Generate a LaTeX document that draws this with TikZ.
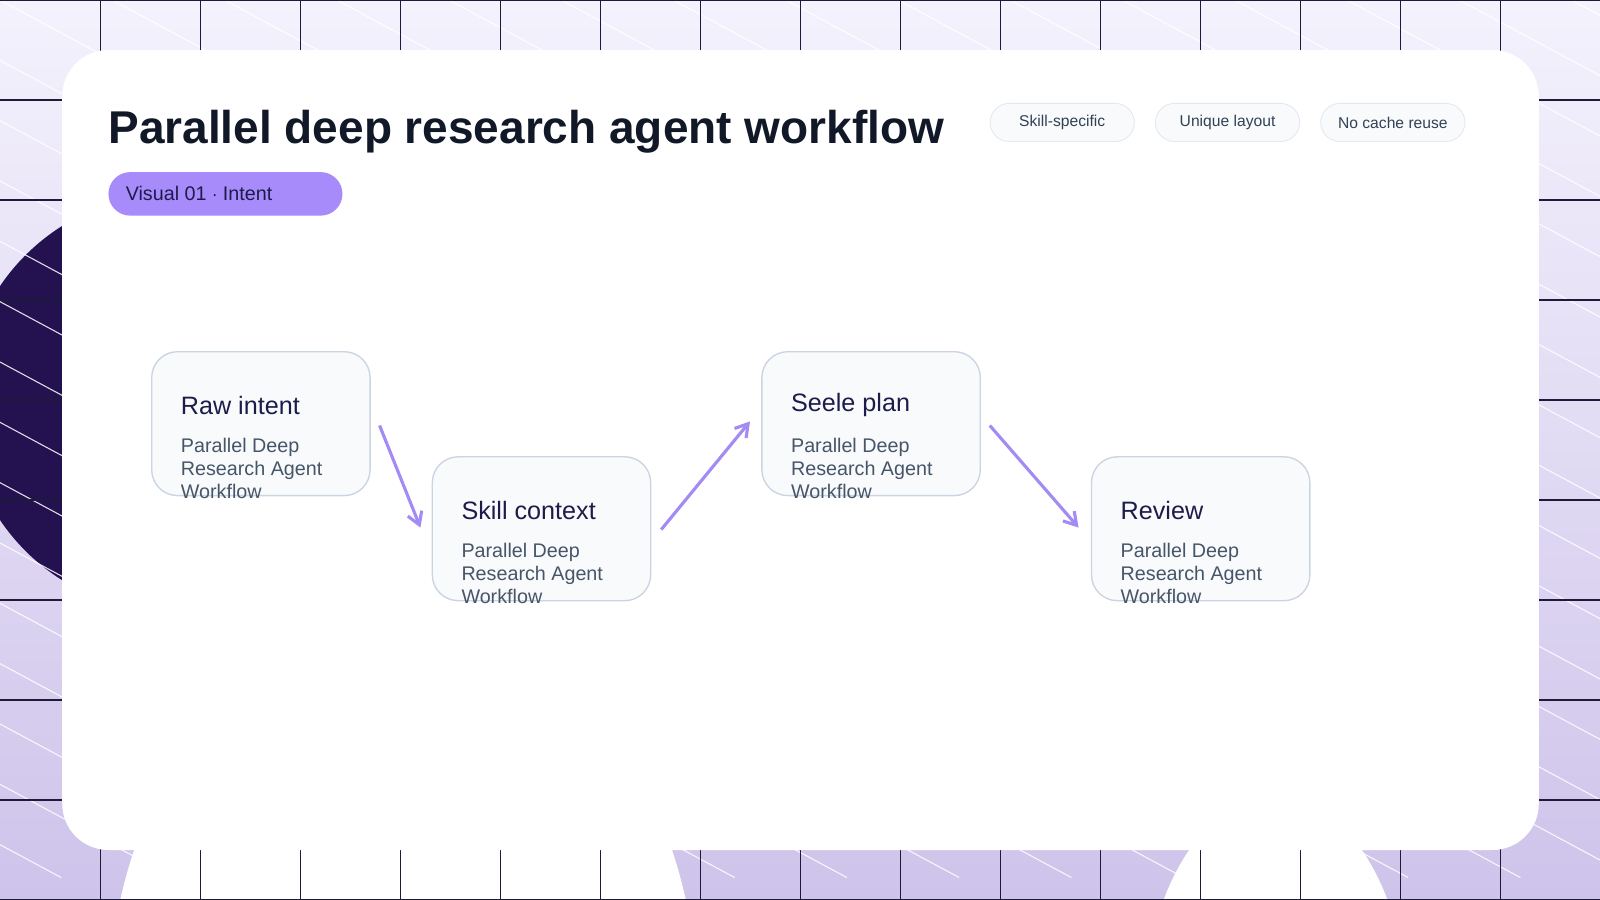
\documentclass[tikz,border=0pt]{standalone}
\usepackage{fontspec}
\setmainfont{Liberation Sans}
\begin{document}
\begin{tikzpicture}[x=0.75pt,y=-0.75pt,
  box/.style={draw=boxline,fill=boxfill,line width=1pt,rounded corners=19pt,minimum width=160.5pt,minimum height=105.75pt,inner sep=0pt},
  chip/.style={draw=chipline,fill=chipfill,line width=0.6pt,rounded corners=14pt,minimum width=106pt,minimum height=28pt,font=\fontsize{11.5}{14}\selectfont,text=chiptext},
  flow/.style={draw=arrowc,line width=2.3pt,-{Straight Barb[length=9pt,width=11pt]}}]
\usetikzlibrary{arrows.meta}
\definecolor{bgtop}{HTML}{F4F2FD}
\definecolor{bgbot}{HTML}{CEC3EA}
\definecolor{grid}{HTML}{1E1B3A}
\definecolor{darkc}{HTML}{24114F}
\definecolor{boxline}{HTML}{CBD5E1}
\definecolor{boxfill}{HTML}{F8FAFC}
\definecolor{chipline}{HTML}{E2E8F0}
\definecolor{chipfill}{HTML}{F8FAFC}
\definecolor{chiptext}{HTML}{334155}
\definecolor{titlec}{HTML}{111827}
\definecolor{pill}{HTML}{A78BFA}
\definecolor{pilltext}{HTML}{1E1B4B}
\definecolor{ntitle}{HTML}{1E1B4B}
\definecolor{nbody}{HTML}{475569}
\definecolor{arrowc}{HTML}{A38AF5}
\useasboundingbox (0,0) rectangle (1568,882);
\shade[top color=bgtop,bottom color=bgbot] (0,0) rectangle (1568,882);
\begin{scope}
\clip (0,0) rectangle (1568,882);
\fill[darkc] (170,395) circle (205);
\foreach \i in {-20,...,16} {\draw[white,line width=0.8pt,opacity=0.85] (\i*110,0) -- ++(1600,860);}
\fill[white] (395,1000) ellipse (290 and 400);
\fill[white] (1250,1000) ellipse (130 and 220);
\foreach \x in {98,196,...,1568} \draw[grid,line width=0.7pt] (\x,0) -- (\x,882);
\foreach \y in {0,98,...,882} \draw[grid,line width=0.9pt] (0,\y) -- (1568,\y);
\end{scope}
\fill[white] (61,49) [rounded corners=34pt] rectangle (1508,833);
\node[anchor=west,font=\bfseries\fontsize{33.8}{40}\selectfont,text=titlec,inner sep=0pt] (title) at (106,129) {Parallel deep research agent workflow};
\node[fill=pill,rounded corners=16pt,minimum width=172pt,minimum height=32pt,anchor=west,inner sep=0pt] (pill) at (106,190) {};
\node[anchor=west,font=\fontsize{14.5}{17}\selectfont,text=pilltext,inner sep=0pt] (pilltx) at (123,190) {Visual 01 $\cdot$ Intent};
\node[chip] (c1) at (1041,120) {Skill-specific};
\node[chip] (c2) at (1203,120) {Unique layout};
\node[chip] (c3) at (1365,120) {No cache reuse};
\foreach \n/\x/\y/\t in {a/148/344/Raw intent, b/423/447/Skill context, c/746/344/Seele plan, d/1069/447/Review}{
  \node[box,anchor=north west] (\n) at (\x,\y) {};
  \node[anchor=west,font=\fontsize{18.5}{22}\selectfont,text=ntitle,inner sep=0pt] (\n t) at (\x+29,\y+53) {\t};
  \node[anchor=north west,font=\fontsize{14.5}{16.8}\selectfont,text=nbody,inner sep=0pt,align=left] (\n b) at (\x+29,\y+85) {Parallel Deep\\Research Agent\\Workflow};
}
\coordinate (a1) at (372,417); \coordinate (a2) at (412,517);
\coordinate (b1) at (648,519); \coordinate (b2) at (735,413);
\coordinate (c1s) at (970,417); \coordinate (c2s) at (1057,517);
\draw[flow] (a1) -- (a2);
\draw[flow] (b1) -- (b2);
\draw[flow] (c1s) -- (c2s);
\end{tikzpicture}
\end{document}
